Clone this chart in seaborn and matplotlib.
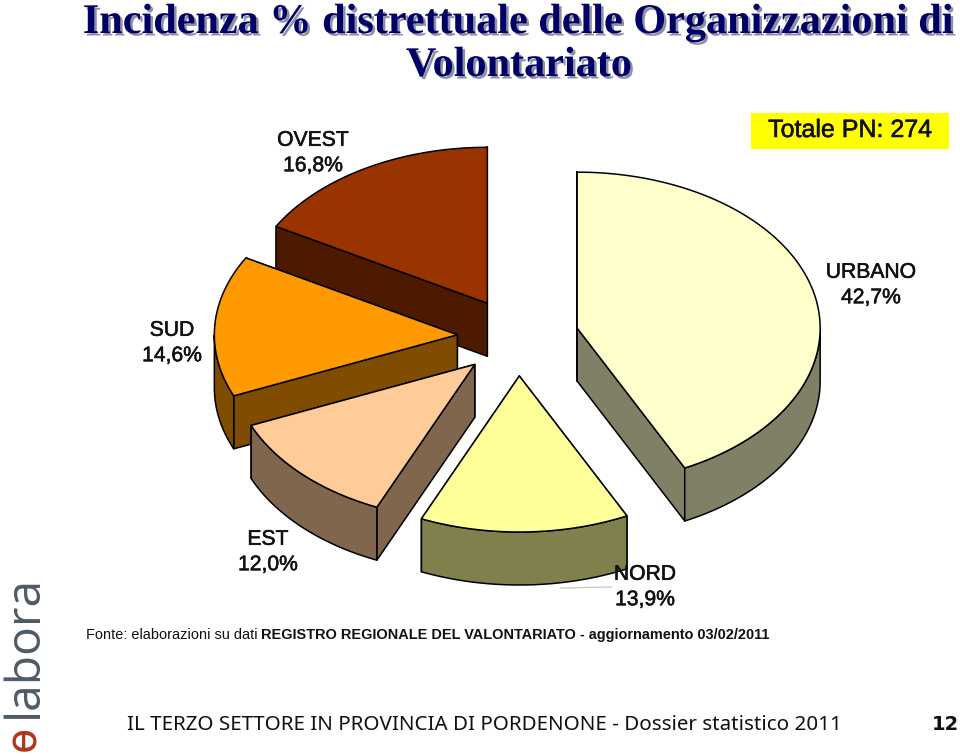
import numpy as np
import pandas as pd
import matplotlib
matplotlib.use("Agg")
import matplotlib.pyplot as plt
import matplotlib.patheffects as pe
import seaborn as sns

# dati
distretti = ["URBANO", "NORD", "EST", "SUD", "OVEST"]
percentuali = [42.7, 13.9, 12.0, 14.6, 16.8]
etichette = ["42,7%", "13,9%", "12,0%", "14,6%", "16,8%"]
colori_top = ["#FFFFCC", "#FFFF99", "#FFCC99", "#FF9900", "#993300"]
colori_lato = ["#808066", "#80804D", "#80664D", "#804D00", "#4D1A00"]

# geometria della torta
CX, CY = 518, 337
RX, RY = 243, 156
DEPTH = 53
EXPLODE = 0.25

sns.set_theme(style="white")
plt.rcParams["font.family"] = ["Liberation Sans", "DejaVu Sans"]

df = pd.DataFrame({"distretto": distretti, "perc": percentuali,
                   "top": colori_top, "lato": colori_lato})
df["fine"] = df["perc"].cumsum() / df["perc"].sum() * 2 * np.pi
df["inizio"] = df["fine"].shift(fill_value=0)
df["medio"] = (df["inizio"] + df["fine"]) / 2
df["ox"] = CX + EXPLODE * RX * np.sin(df["medio"])
df["oy"] = CY - EXPLODE * RY * np.cos(df["medio"])

fig = plt.figure(figsize=(9.6, 7.56), dpi=100)
ax = fig.add_axes([0, 0, 1, 1])
ax.set_xlim(0, 960)
ax.set_ylim(756, 0)
ax.axis("off")


def arco(ox, oy, a, b):
    t = np.linspace(a, b, 100)
    return ox + RX * np.sin(t), oy - RY * np.cos(t)


def muro(xs, ys, colore, z):
    # striscia estrusa verso il basso
    px = np.r_[xs, xs[::-1]]
    py = np.r_[ys, (ys + DEPTH)[::-1]]
    ax.fill(px, py, facecolor=colore, edgecolor="black", lw=1.1, zorder=z, joinstyle="round")


# ordine di disegno: dal fondo verso chi guarda
ordine = ["OVEST", "SUD", "URBANO", "EST", "NORD"]
for z, nome in enumerate(ordine):
    r = df[df["distretto"] == nome].iloc[0]
    base = z * 10 + 1
    ox, oy = r["ox"], r["oy"]

    # prima la parete radiale piu' lontana (estremo piu' in alto)
    angoli = sorted((r["inizio"], r["fine"]), key=lambda ang: -np.cos(ang))
    for ang in angoli:
        ex, ey = arco(ox, oy, ang, ang)
        muro(np.array([ox, ex[0]]), np.array([oy, ey[0]]), r["lato"], base)

    # bordo esterno: si vede solo la meta' anteriore dell'ellisse
    a = max(r["inizio"], np.pi / 2)
    b = min(r["fine"], 3 * np.pi / 2)
    if a < b:
        xs, ys = arco(ox, oy, a, b)
        muro(xs, ys, r["lato"], base + 1)

    xs, ys = arco(ox, oy, r["inizio"], r["fine"])
    ax.fill(np.r_[ox, xs], np.r_[oy, ys], facecolor=r["top"], edgecolor="black",
            lw=1.1, zorder=base + 2)

# etichette
pos_etichette = {"URBANO": (871, 285), "NORD": (645, 587), "EST": (268, 552),
                 "SUD": (172, 343), "OVEST": (313, 153)}
spessore = [pe.withStroke(linewidth=0.4, foreground="#111111")]
for nome, lab in zip(distretti, etichette):
    x, y = pos_etichette[nome]
    ax.text(x, y, f"{nome}\n{lab}", ha="center", va="center", fontsize=15.2,
            color="#111111", linespacing=1.43, zorder=100, path_effects=spessore)

# linea guida di NORD
ax.plot([560, 612], [588, 587], color="#c8c8c8", lw=0.9, zorder=0)

# titolo
ombra = [pe.withSimplePatchShadow(offset=(1.8, -1.8), shadow_rgbFace="#8f8fa8", alpha=1)]
for testo, y in (("Incidenza % distrettuale delle Organizzazioni di", 23),
                 ("Volontariato", 66)):
    ax.text(519, y, testo, ha="center", va="center", fontsize=30.4, fontweight="bold",
            family="Liberation Serif", color="#000066", path_effects=ombra, zorder=100)

# box totale
ax.text(850, 130, "Totale PN: 274", ha="center", va="center", fontsize=18, color="#111111",
        zorder=100, path_effects=spessore)
ax.fill([751, 949, 949, 751], [113, 113, 149, 149], color="#FFFF00", lw=0, zorder=50)

# fonte
ax.text(86, 635, "Fonte: elaborazioni su dati ", ha="left", va="center", fontsize=10.45,
        color="#111111")
ax.text(261, 635, "REGISTRO REGIONALE DEL VALONTARIATO - aggiornamento 03/02/2011", ha="left",
        va="center", fontsize=10.45, fontweight="bold", color="#111111")

# piede pagina
ax.text(127, 725, "IL TERZO SETTORE IN PROVINCIA DI PORDENONE - Dossier statistico 2011",
        ha="left", va="center", fontsize=14.8, family="Noto Sans", color="#111111")
ax.text(959, 724, "12", ha="right", va="center", fontsize=14, fontweight="bold",
        family="DejaVu Sans", color="#111111")

# logo
ax.text(24, 646, "labora", rotation=90, ha="center", va="center", fontsize=34.5,
        family="Open Sans", color="#4F5A66")
ax.text(23, 738, "ɵ", rotation=90, ha="center", va="center", fontsize=30,
        family="DejaVu Sans", color="#B5341A")

sns.despine(ax=ax, left=True, bottom=True)
fig.savefig("out.png", dpi=100)
